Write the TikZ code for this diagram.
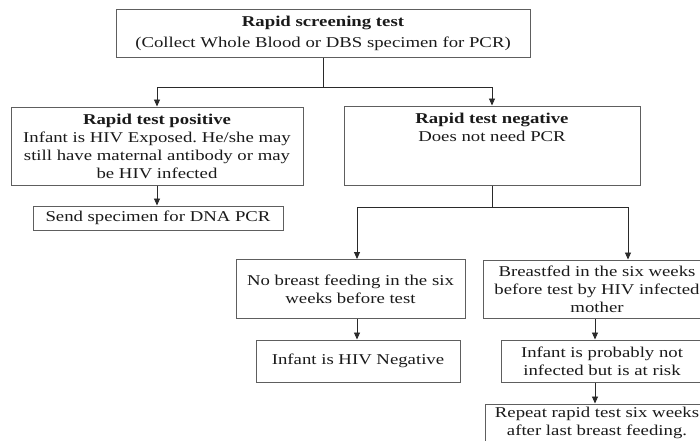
\documentclass[tikz,border=0pt]{standalone}
\usepackage{fontspec}
\setmainfont[FakeStretch=1.25]{Liberation Serif}
\usetikzlibrary{arrows.meta}
\definecolor{boxgray}{HTML}{5E5E5E}
\definecolor{linec}{HTML}{2A2A2A}
\definecolor{txt}{HTML}{1A1A1A}
\frenchspacing
\begin{document}
\begin{tikzpicture}[x=1pt,y=-1pt,
  box/.style={draw=boxgray, line width=1pt, inner sep=2pt, align=center,
    font=\fontsize{15}{18}\selectfont, text=txt},
  arr/.style={-{Triangle[length=7pt,width=6pt]}, line width=0.9pt, draw=linec},
  ln/.style={line width=0.9pt, draw=linec}]
\useasboundingbox (0,0) rectangle (700,440);
\fill[white] (0,0) rectangle (700,440);
\clip (0,0) rectangle (700,440);

\node[box, minimum width=414, minimum height=48] (top) at (323,33)
  {\textbf{Rapid screening test}\\[3pt](Collect Whole Blood or DBS specimen for PCR)};
\node[box, minimum width=292, minimum height=78] (pos) at (157,146)
  {\textbf{Rapid test positive}\\Infant is HIV Exposed. He/she may\\still have maternal antibody or may\\be HIV infected};
\node[box, minimum width=250, minimum height=24] (send) at (158,218)
  {Send specimen for DNA PCR};
\node[box, minimum width=296, minimum height=79] (neg) at (492,145.5)
  {\textbf{Rapid test negative}\\Does not need PCR\\\mbox{}\\\mbox{}};
\node[box, minimum width=229, minimum height=59] (nobf) at (350.5,289)
  {No breast feeding in the six\\weeks before test};
\node[box, minimum width=204, minimum height=42] (neghiv) at (358,361)
  {Infant is HIV Negative};
\node[box, minimum width=228, minimum height=58] (bf) at (597,289)
  {Breastfed in the six weeks\\before test by HIV infected\\mother};
\node[box, minimum width=202, minimum height=42] (prob) at (602,361)
  {Infant is probably not\\infected but is at risk};
\node[box, minimum width=224, minimum height=38] (rep) at (597,423)
  {Repeat rapid test six weeks\\after last breast feeding.};

\path (top.south) ++(0,30) coordinate (j1);
\draw[ln] (top.south) -- (j1);
\draw[arr] (j1) -| (pos.north);
\draw[arr] (j1) -| (neg.north);
\draw[arr] (pos.south) -- (pos.south |- send.north);
\path (neg.south) ++(0,22) coordinate (j2);
\draw[ln] (neg.south) -- (j2);
\draw[arr] (j2) -| ([xshift=6.5pt]nobf.north);
\draw[arr] (j2) -| ([xshift=31pt]bf.north);
\draw[arr] ([xshift=6.5pt]nobf.south) -- ([xshift=6.5pt]nobf.south |- neghiv.north);
\draw[arr] ([xshift=-2pt]bf.south) -- ([xshift=-2pt]bf.south |- prob.north);
\draw[arr] ([xshift=-2pt]bf.south |- prob.south) -- ([xshift=-2pt]bf.south |- rep.north);
\end{tikzpicture}
\end{document}
